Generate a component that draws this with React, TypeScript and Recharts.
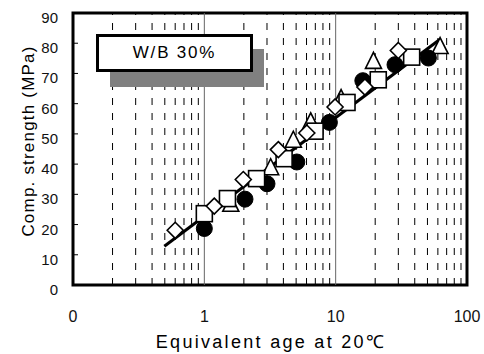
import React from 'react';
import {
  ComposedChart,
  Scatter,
  XAxis,
  YAxis,
  ReferenceLine,
  ReferenceArea,
} from 'recharts';

// Equivalent age (days) vs compressive strength (MPa), W/B 30%
const circleAge = [1.0, 2.04, 3.0, 5.06, 8.96, 16.1, 28.3, 50.8];
const circleStrength = [18.7, 28.4, 33.5, 40.7, 53.8, 67.6, 72.9, 75.1];

const triangleAge = [1.59, 3.2, 4.76, 6.46, 11.0, 19.4, 62.4];
const triangleStrength = [26.7, 38.8, 47.9, 54.0, 61.7, 74.0, 78.9];

const squareAge = [1.0, 1.5, 2.5, 4.05, 6.97, 12.2, 21.1, 37.9];
const squareStrength = [23.6, 28.6, 35.2, 41.8, 50.9, 60.4, 67.9, 75.4];

const diamondAge = [0.6, 1.19, 1.98, 3.66, 6.03, 9.9, 16.7, 30.0];
const diamondStrength = [18.1, 26.1, 34.9, 44.8, 50.3, 58.9, 65.5, 77.6];

// fitted curve end points (straight on log axis)
const fitAge = [0.496, 62.4];
const fitStrength = [12.8, 81.3];

const xTicks = [0.1, 1, 10, 100];
const yTicks = [0, 10, 20, 30, 40, 50, 60, 70, 80, 90];
const dashedGrid = [0.2, 0.3, 0.4, 0.5, 0.6, 0.7, 0.8, 0.9, 2, 3, 4, 5, 6, 7, 8, 9, 20, 30, 40, 50, 60, 70, 80, 90];
const solidGrid = [1, 10];

const font = '"Liberation Sans", Arial, sans-serif';

const toPoints = (xs: number[], ys: number[]) => xs.map((x, i) => ({ x, y: ys[i] }));

const Circle = ({ cx, cy }: any) => <circle cx={cx} cy={cy} r={8} fill="#000" stroke="#000" />;
const Square = ({ cx, cy }: any) => (
  <rect x={cx - 8} y={cy - 8} width={16} height={16} fill="#fff" stroke="#000" strokeWidth={1.6} />
);
const Diamond = ({ cx, cy }: any) => (
  <polygon
    points={`${cx},${cy - 8} ${cx + 8},${cy} ${cx},${cy + 8} ${cx - 8},${cy}`}
    fill="#fff"
    stroke="#000"
    strokeWidth={1.6}
  />
);
const Triangle = ({ cx, cy }: any) => (
  <polygon
    points={`${cx},${cy - 9} ${cx + 8},${cy + 7} ${cx - 8},${cy + 7}`}
    fill="#fff"
    stroke="#000"
    strokeWidth={1.6}
  />
);

const YTick = ({ x, y, payload }: any) => (
  <g>
    <line x1={x} x2={x + 5} y1={y} y2={y} stroke="#000" />
    <text x={x - 15} y={y + 10} textAnchor="end" fontSize={15} fontFamily={font} fill="#111">
      {payload.value}
    </text>
  </g>
);

const XTick = ({ x, y, payload }: any) => (
  <text x={x} y={y + 12} textAnchor="middle" fontSize={16} fontFamily={font} fill="#111">
    {payload.value === 0.1 ? '0' : payload.value}
  </text>
);

const App = () => {
  return (
    <div style={{ position: 'absolute', left: 0, top: 0, width: 484, height: 354, background: '#fff' }}>
      <ComposedChart width={484} height={354} margin={{ top: 13, right: 17, left: 0, bottom: 0 }}>
        <XAxis
          type="number"
          dataKey="x"
          scale="log"
          domain={[0.1, 100]}
          ticks={xTicks}
          tick={<XTick />}
          tickLine={false}
          axisLine={false}
          tickSize={0}
          tickMargin={25}
          height={69}
          allowDataOverflow
          label={{
            content: () => (
              <text x={271} y={348} textAnchor="middle" fontSize={18} fontFamily={font} letterSpacing={2.3} fill="#000">
                Equivalent age at 20℃
              </text>
            ),
          }}
        />
        <YAxis
          type="number"
          dataKey="y"
          domain={[0, 90]}
          ticks={yTicks}
          tick={<YTick />}
          tickLine={false}
          axisLine={false}
          tickSize={0}
          tickMargin={0}
          width={73}
          label={{
            content: () => (
              <text
                x={28}
                y={141}
                transform="rotate(-90 28 141)"
                textAnchor="middle"
                dominantBaseline="central"
                fontSize={17}
                fontFamily={font}
                letterSpacing={1.2}
                fill="#000"
              >
                Comp. strength (MPa)
              </text>
            ),
          }}
        />
        {dashedGrid.map((v) => (
          <ReferenceLine key={`d${v}`} x={v} stroke="#000" strokeWidth={1} strokeDasharray="7 8" />
        ))}
        {solidGrid.map((v) => (
          <ReferenceLine key={`s${v}`} x={v} stroke="#666" strokeWidth={1} />
        ))}
        <Scatter
          data={toPoints(fitAge, fitStrength)}
          line={{ stroke: '#000', strokeWidth: 3 }}
          shape={() => <g />}
          isAnimationActive={false}
        />
        <Scatter data={toPoints(triangleAge, triangleStrength)} shape={<Triangle />} isAnimationActive={false} />
        <Scatter data={toPoints(circleAge, circleStrength)} shape={<Circle />} isAnimationActive={false} />
        <Scatter data={toPoints(squareAge, squareStrength)} shape={<Square />} isAnimationActive={false} />
        <Scatter data={toPoints(diamondAge, diamondStrength)} shape={<Diamond />} isAnimationActive={false} />
        <ReferenceArea x1={0.1} x2={100} y1={0} y2={90} fill="none" stroke="#000" strokeWidth={3} />
      </ComposedChart>
      <div style={{ position: 'absolute', left: 110, top: 49, width: 154, height: 38, background: '#808080' }} />
      <div
        style={{
          position: 'absolute',
          left: 96,
          top: 34,
          width: 151,
          height: 32,
          background: '#fff',
          border: '3px solid #000',
          display: 'flex',
          alignItems: 'center',
          justifyContent: 'center',
          fontFamily: font,
          fontSize: 17,
          letterSpacing: 1.8,
          color: '#000',
        }}
      >
        W/B 30%
      </div>
    </div>
  );
};

export default App;
